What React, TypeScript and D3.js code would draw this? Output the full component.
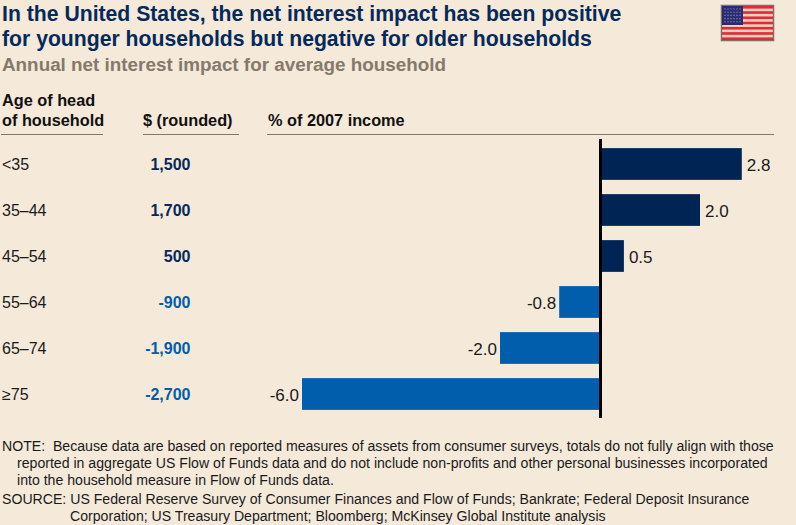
import * as d3 from 'd3';

const ages = ['<35', '35–44', '45–54', '55–64', '65–74', '≥75'];
const dollars = ['1,500', '1,700', '500', '-900', '-1,900', '-2,700'];
const pctIncome = [2.84, 2.0, 0.47, -0.83, -2.02, -6.0];

const titleLines = [
  'In the United States, the net interest impact has been positive',
  'for younger households but negative for older households',
];
const subtitle = 'Annual net interest impact for average household';
const noteLines = [
  { x: 2, y: 451, text: 'NOTE:  Because data are based on reported measures of assets from consumer surveys, totals do not fully align with those' },
  { x: 17, y: 468, text: 'reported in aggregate US Flow of Funds data and do not include non-profits and other personal businesses incorporated' },
  { x: 17, y: 485, text: 'into the household measure in Flow of Funds data.' },
  { x: 2, y: 504, text: 'SOURCE: US Federal Reserve Survey of Consumer Finances and Flow of Funds; Bankrate; Federal Deposit Insurance' },
  { x: 70, y: 521, text: 'Corporation; US Treasury Department; Bloomberg; McKinsey Global Institute analysis' },
];

const BG = '#f5e9da';
const NAVY = '#002554';
const BLUE = '#005eac';
const TITLE = '#04295a';
const INK = '#1a1a1a';
const RULE = '#84786a';
const FONT = '"Liberation Sans", Arial, sans-serif';

const W = 796;
const H = 525;

const x = d3.scaleLinear().domain([-6, 2]).range([302, 700]);
const y = d3.scaleBand<string>().domain(ages).range([141, 417]).paddingInner(0.31).paddingOuter(0.155);

const stripeRows = d3.range(13);
const flagY = d3.scaleBand<number>().domain(stripeRows).range([6, 40]);
const starRows = d3.range(5);
const starCols = d3.range(6);

export default function App() {
  return (
    <svg width={W} height={H} style={{ position: 'absolute', left: 0, top: 0, background: BG, fontFamily: FONT }}>
      {titleLines.map((t, i) => (
        <text key={t} x={2} y={21 + i * 25} fontSize={21.2} fontWeight="bold" fill={TITLE}>{t}</text>
      ))}
      <text x={2} y={71} fontSize={18.85} fontWeight="bold" fill="#85796c">{subtitle}</text>

      {/* flag */}
      <rect x={721.5} y={5.5} width={52} height={35} fill="#f7d0bb" stroke="#7d7265" strokeWidth={1.5} />
      {stripeRows.filter(i => i % 2 === 0).map(i => (
        <rect key={i} x={722} y={flagY(i)} width={51} height={flagY.bandwidth()} fill="#e02a3a" />
      ))}
      <rect x={722} y={6} width={21} height={19} fill="#2a2c72" />
      {starRows.map(r => starCols.map(c => (
        <circle key={`${r}-${c}`} cx={725 + c * 3} cy={9 + r * 3.2} r={0.8} fill="#7378a8" />
      )))}

      {/* column headers */}
      <g fontSize={16.3} fontWeight="bold" fill="#111">
        <text x={2} y={106}>Age of head</text>
        <text x={2} y={126}>of household</text>
        <text x={143} y={126}>$ (rounded)</text>
        <text x={268} y={126}>% of 2007 income</text>
      </g>
      <g stroke={RULE} strokeWidth={1}>
        <line x1={1} x2={103} y1={134.5} y2={134.5} />
        <line x1={143} x2={239} y1={134.5} y2={134.5} />
        <line x1={267} x2={774} y1={134.5} y2={134.5} />
      </g>

      {/* rows */}
      {ages.map((a, i) => {
        const v = pctIncome[i];
        const cy = (y(a) as number) + y.bandwidth() / 2;
        const pos = v >= 0;
        return (
          <g key={a}>
            <text x={2} y={cy + 6} fontSize={16} fill={INK}>{a}</text>
            <text x={190.5} y={cy + 6} fontSize={16} fontWeight="bold" textAnchor="end" fill={pos ? TITLE : BLUE}>{dollars[i]}</text>
            <rect
              x={pos ? x(0) : x(v)}
              y={y(a)}
              width={Math.abs(x(v) - x(0))}
              height={y.bandwidth()}
              fill={pos ? NAVY : BLUE}
            />
            <text
              x={pos ? x(v) + 5 : x(v) - 3}
              y={cy + 6.5}
              fontSize={17}
              textAnchor={pos ? 'start' : 'end'}
              fill={INK}
            >
              {v.toFixed(1)}
            </text>
          </g>
        );
      })}
      <line x1={x(0)} x2={x(0)} y1={139} y2={418} stroke="#000" strokeWidth={3} />

      {/* footnotes */}
      <g fontSize={14.12} fill={INK}>
        {noteLines.map(n => (
          <text key={n.text} x={n.x} y={n.y} xmlSpace="preserve">{n.text}</text>
        ))}
      </g>
    </svg>
  );
}
